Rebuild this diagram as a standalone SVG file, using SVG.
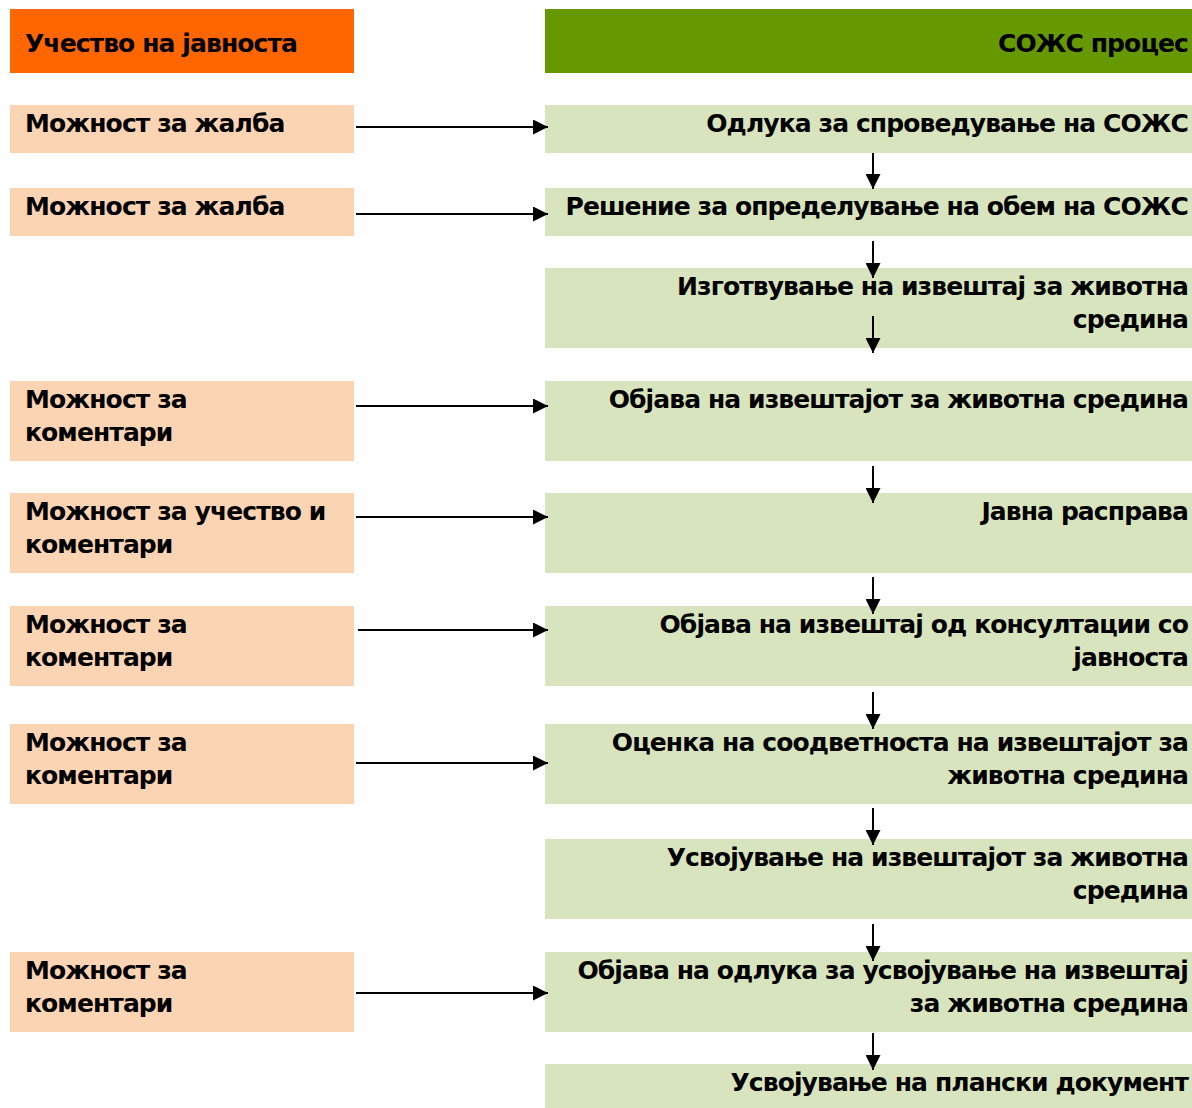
<svg xmlns="http://www.w3.org/2000/svg" width="1192" height="1108" viewBox="0 0 1192 1108">
<defs>
<style>
text{font-family:"DejaVu Sans","Liberation Sans",sans-serif;font-weight:bold;font-size:25px;letter-spacing:-0.9px;fill:#000}
.l{fill:#FBD4B4}
.r{fill:#D7E4BD}
.e{text-anchor:end}
.c line{stroke:#000;stroke-width:2}
</style>
<marker id="a" viewBox="0 0 15 15" refX="15" refY="7.5" markerWidth="15" markerHeight="15" markerUnits="userSpaceOnUse" orient="auto">
<path d="M0,0 L15,7.5 L0,15 z" fill="#000"/>
</marker>
</defs>
<rect width="1192" height="1108" fill="#fff"/>
<g id="hdr-left"><rect x="10" y="9" width="344" height="64" fill="#FF6600"/><text x="25" y="52">Учество на јавноста</text></g>
<g id="hdr-right"><rect x="545" y="9" width="647" height="64" fill="#669900"/><text class="e" x="1188" y="52">СОЖС процес</text></g>

<g id="p1"><rect class="l" x="10" y="105" width="344" height="48"/><text x="25" y="132">Можност за жалба</text></g>
<g id="p2"><rect class="l" x="10" y="188" width="344" height="48"/><text x="25" y="215">Можност за жалба</text></g>
<g id="p3"><rect class="l" x="10" y="381" width="344" height="80"/><text x="25" y="408">Можност за</text><text x="25" y="441">коментари</text></g>
<g id="p4"><rect class="l" x="10" y="493" width="344" height="80"/><text x="25" y="520">Можност за учество и</text><text x="25" y="553">коментари</text></g>
<g id="p5"><rect class="l" x="10" y="606" width="344" height="80"/><text x="25" y="633">Можност за</text><text x="25" y="666">коментари</text></g>
<g id="p6"><rect class="l" x="10" y="724" width="344" height="80"/><text x="25" y="751">Можност за</text><text x="25" y="784">коментари</text></g>
<g id="p7"><rect class="l" x="10" y="952" width="344" height="80"/><text x="25" y="979">Можност за</text><text x="25" y="1012">коментари</text></g>

<g id="s1"><rect class="r" x="545" y="105" width="647" height="48"/><text class="e" x="1188" y="132">Одлука за спроведување на СОЖС</text></g>
<g id="s2"><rect class="r" x="545" y="188" width="647" height="48"/><text class="e" x="1188" y="215">Решение за определување на обем на СОЖС</text></g>
<g id="s3"><rect class="r" x="545" y="268" width="647" height="80"/><text class="e" x="1188" y="295">Изготвување на извештај за животна</text><text class="e" x="1188" y="328">средина</text></g>
<g id="s4"><rect class="r" x="545" y="381" width="647" height="80"/><text class="e" x="1188" y="408">Објава на извештајот за животна средина</text></g>
<g id="s5"><rect class="r" x="545" y="493" width="647" height="80"/><text class="e" x="1188" y="520">Јавна расправа</text></g>
<g id="s6"><rect class="r" x="545" y="606" width="647" height="80"/><text class="e" x="1188" y="633">Објава на извештај од консултации со</text><text class="e" x="1188" y="666">јавноста</text></g>
<g id="s7"><rect class="r" x="545" y="724" width="647" height="80"/><text class="e" x="1188" y="751">Оценка на соодветноста на извештајот за</text><text class="e" x="1188" y="784">животна средина</text></g>
<g id="s8"><rect class="r" x="545" y="839" width="647" height="80"/><text class="e" x="1188" y="866">Усвојување на извештајот за животна</text><text class="e" x="1188" y="899">средина</text></g>
<g id="s9"><rect class="r" x="545" y="952" width="647" height="80"/><text class="e" x="1188" y="979">Објава на одлука за усвојување на извештај</text><text class="e" x="1188" y="1012">за животна средина</text></g>
<g id="s10"><rect class="r" x="545" y="1064" width="647" height="44"/><text class="e" x="1188" y="1091">Усвојување на плански документ</text></g>

<g id="connectors" class="c">
<line x1="356" y1="127" x2="548" y2="127" marker-end="url(#a)"/>
<line x1="356" y1="214" x2="548" y2="214" marker-end="url(#a)"/>
<line x1="356" y1="406" x2="548" y2="406" marker-end="url(#a)"/>
<line x1="356" y1="517" x2="548" y2="517" marker-end="url(#a)"/>
<line x1="358" y1="630" x2="548" y2="630" marker-end="url(#a)"/>
<line x1="356" y1="763" x2="548" y2="763" marker-end="url(#a)"/>
<line x1="356" y1="993" x2="548" y2="993" marker-end="url(#a)"/>
<line x1="873" y1="153" x2="873" y2="189" marker-end="url(#a)"/>
<line x1="873" y1="241" x2="873" y2="278" marker-end="url(#a)"/>
<line x1="873" y1="316" x2="873" y2="353" marker-end="url(#a)"/>
<line x1="873" y1="466" x2="873" y2="503" marker-end="url(#a)"/>
<line x1="873" y1="577" x2="873" y2="614" marker-end="url(#a)"/>
<line x1="873" y1="692" x2="873" y2="729" marker-end="url(#a)"/>
<line x1="873" y1="808" x2="873" y2="845" marker-end="url(#a)"/>
<line x1="873" y1="924" x2="873" y2="961" marker-end="url(#a)"/>
<line x1="873" y1="1033" x2="873" y2="1070" marker-end="url(#a)"/>
</g>
</svg>
